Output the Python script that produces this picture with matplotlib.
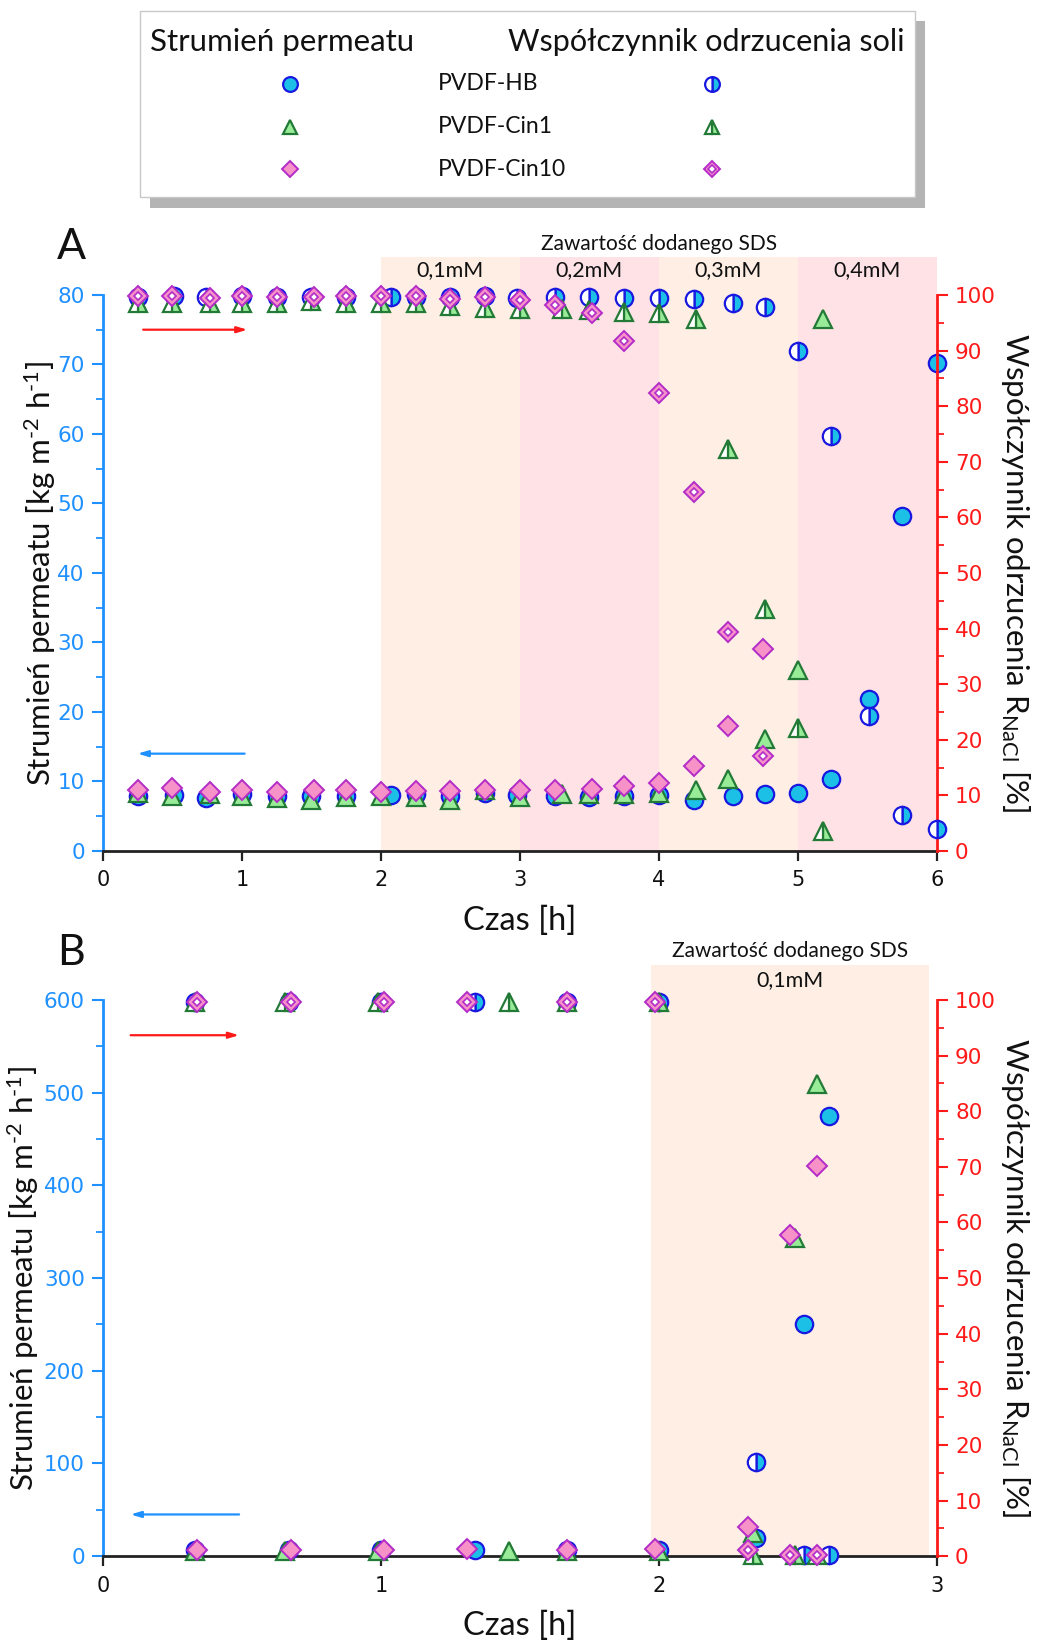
import matplotlib
matplotlib.use("Agg")
import matplotlib.pyplot as plt
from matplotlib.patches import Rectangle
from matplotlib.ticker import MultipleLocator

plt.rcParams["font.family"] = ["Lato", "DejaVu Sans"]
plt.rcParams["mathtext.fontset"] = "custom"
plt.rcParams["mathtext.rm"] = "Lato"
plt.rcParams["mathtext.it"] = "Lato:italic"

# ---------------- Panel A: flux and salt rejection vs time ----------------
a_hb_t = [0.25, 0.51, 0.74, 1.0, 1.25, 1.5, 1.75, 2.07, 2.25, 2.5, 2.75, 2.98,
          3.25, 3.5, 3.75, 4.0, 4.25, 4.53, 4.76, 5.0, 5.24, 5.51, 5.75, 6.0]
a_hb_flux = [7.9, 8.0, 7.6, 8.2, 7.9, 7.9, 7.9, 8.0, 8.2, 7.9, 8.3, 8.1,
             7.9, 7.8, 7.9, 8.0, 7.3, 7.9, 8.2, 8.4, 10.3, 21.8, 48.2, 70.2]
a_hb_rej = [99.6, 99.8, 99.6, 99.8, 99.6, 99.6, 99.6, 99.7, 99.7, 99.6, 99.8, 99.4,
            99.7, 99.6, 99.5, 99.5, 99.3, 98.6, 97.8, 90.0, 74.6, 24.2, 6.5, 3.9]

a_cin1_t = [0.25, 0.5, 0.77, 1.0, 1.25, 1.5, 1.75, 2.0, 2.25, 2.5, 2.75, 3.0,
            3.3, 3.5, 3.75, 4.0, 4.27, 4.5, 4.76, 5.0, 5.18]
a_cin1_flux = [8.3, 7.9, 8.2, 7.9, 7.6, 7.4, 7.8, 7.9, 7.8, 7.3, 8.8, 7.8,
               8.2, 8.2, 8.2, 8.4, 8.8, 10.4, 16.1, 26.0, 76.5]
a_cin1_rej = [98.6, 98.6, 98.6, 98.6, 98.6, 99.0, 98.6, 98.6, 98.5, 98.0, 97.7, 97.4,
              97.4, 97.3, 97.0, 96.7, 95.6, 72.3, 43.6, 22.2, 3.5]

a_cin10_t = [0.25, 0.5, 0.77, 1.0, 1.25, 1.52, 1.75, 2.0, 2.25, 2.5, 2.75, 3.0,
             3.25, 3.52, 3.75, 4.0, 4.25, 4.5, 4.75]
a_cin10_flux = [8.7, 9.1, 8.5, 8.7, 8.5, 8.8, 8.8, 8.5, 8.6, 8.6, 8.8, 8.8,
                8.8, 8.9, 9.4, 9.8, 12.2, 18.0, 29.0]
a_cin10_rej = [99.8, 99.9, 99.5, 99.8, 99.7, 99.6, 99.8, 99.9, 99.8, 99.2, 99.6, 99.1,
               98.2, 96.8, 91.7, 82.4, 64.5, 39.4, 17.1]

a_sds_edges = [2, 3, 4, 5, 6]
a_sds_labels = ["0,1mM", "0,2mM", "0,3mM", "0,4mM"]

# ---------------- Panel B ----------------
b_hb_t = [0.33, 0.67, 1.0, 1.34, 1.67, 2.0, 2.35, 2.52, 2.61]
b_hb_flux = [7, 7, 7, 7, 7, 7, 20, 250, 475]
b_hb_rej = [99.7, 99.7, 99.7, 99.7, 99.7, 99.7, 17.0, 0.2, 0.2]

b_cin1_t = [0.33, 0.655, 0.99, 1.46, 1.67, 2.0, 2.34, 2.49, 2.57]
b_cin1_flux = [6, 6, 6, 6, 6, 6, 25, 343, 509]
b_cin1_rej = [99.7, 99.7, 99.7, 99.7, 99.7, 99.7, 0.2, 0.2, 0.2]

b_cin10_t = [0.34, 0.675, 1.01, 1.31, 1.67, 1.985, 2.32, 2.47, 2.57]
b_cin10_flux = [7, 7, 7, 8, 7, 7.3, 31.7, 347, 421]
b_cin10_rej = [99.7, 99.7, 99.7, 99.7, 99.7, 99.7, 1.1, 0.2, 0.2]

b_sds_edges = [1.97, 2.97]
b_sds_labels = ["0,1mM"]

membranes = ["PVDF-HB", "PVDF-Cin1", "PVDF-Cin10"]

# ---------------- styling ----------------
BLUE_AX = "#1e90ff"
RED_AX = "#ff1a1a"
PEACH = "#feeee4"
PINK = "#fee2e6"
TXT = "#111111"

CYAN, CBLUE = "#1cc0e6", "#1818e0"
LGREEN, DGREEN = "#98ec98", "#237a37"
LPINK, PURPLE = "#f792c8", "#b42cc8"

flux_style = {
    "PVDF-HB": dict(marker="o", ms=12.5, mfc=CYAN, mec=CBLUE, mew=1.6),
    "PVDF-Cin1": dict(marker="^", ms=12.5, mfc=LGREEN, mec=DGREEN, mew=1.6),
    "PVDF-Cin10": dict(marker="D", ms=10, mfc=LPINK, mec=PURPLE, mew=1.4),
}
rej_style = {
    "PVDF-HB": dict(marker="o", ms=12.5, mfc=CYAN, mec=CBLUE, mew=1.6,
                    fillstyle="right", markerfacecoloralt="white"),
    "PVDF-Cin1": dict(marker="^", ms=12.5, mfc=LGREEN, mec=DGREEN, mew=1.6,
                      fillstyle="right", markerfacecoloralt="white"),
    "PVDF-Cin10": dict(marker="D", ms=10, mfc=LPINK, mec=PURPLE, mew=1.4),
}
inner_diamond = dict(marker="D", ms=4.5, mfc="white", mec=PURPLE, mew=1.2)


def draw_rej(ax, name, t, r, zorder=3):
    ax.plot(t, r, ls="none", zorder=zorder, clip_on=False, **rej_style[name])
    if name == "PVDF-Cin10":
        ax.plot(t, r, ls="none", zorder=zorder, clip_on=False, **inner_diamond)


def panel(ax, xmax, ymax, ymajor, yminor, edges, labels, shade_top,
          title_y, label_y, series, arrows, ylabel_x):
    ax2 = ax.twinx()
    ax.set_xlim(0, xmax)
    ax.set_ylim(0, ymax)
    ax2.set_ylim(0, 100)

    # SDS dosing bands, reaching above the plotting area
    cols = [PEACH, PINK]
    for i in range(len(edges) - 1):
        ax.add_patch(Rectangle((edges[i], 0), edges[i + 1] - edges[i], shade_top,
                               facecolor=cols[i % 2], edgecolor="none",
                               zorder=0, clip_on=False))
        ax.text((edges[i] + edges[i + 1]) / 2, label_y, labels[i],
                ha="center", va="center", fontsize=15.5, color=TXT)
    ax.text((edges[0] + edges[-1]) / 2, title_y, "Zawartość dodanego SDS",
            ha="center", va="center", fontsize=15, color=TXT)

    for name, t, flux, rej in series:
        ax.plot(t, flux, ls="none", zorder=3, clip_on=False, **flux_style[name])
        draw_rej(ax2, name, t, rej)

    # direction arrows: red -> right axis, blue -> left axis
    (rx0, rx1, ry), (bx0, bx1, by) = arrows
    ax.annotate("", xy=(rx1, ry), xytext=(rx0, ry),
                arrowprops=dict(arrowstyle="-|>,head_length=0.6,head_width=0.18",
                                color=RED_AX, lw=1.6))
    ax.annotate("", xy=(bx1, by), xytext=(bx0, by),
                arrowprops=dict(arrowstyle="-|>,head_length=0.6,head_width=0.18",
                                color=BLUE_AX, lw=1.6))

    for a in (ax, ax2):
        a.spines["top"].set_visible(False)
        a.set_facecolor("none")
    ax.spines["left"].set_color(BLUE_AX)
    ax.spines["left"].set_linewidth(2)
    ax.spines["right"].set_visible(False)
    ax.spines["bottom"].set_color("#222222")
    ax.spines["bottom"].set_linewidth(2)
    ax2.spines["left"].set_visible(False)
    ax2.spines["bottom"].set_visible(False)
    ax2.spines["right"].set_color(RED_AX)
    ax2.spines["right"].set_linewidth(2)

    ax.xaxis.set_major_locator(MultipleLocator(1))
    ax.yaxis.set_major_locator(MultipleLocator(ymajor))
    ax.yaxis.set_minor_locator(MultipleLocator(yminor))
    ax2.yaxis.set_major_locator(MultipleLocator(10))
    ax2.yaxis.set_minor_locator(MultipleLocator(5))

    ax.tick_params(axis="x", direction="out", length=7, width=1.6, color="#222222",
                   labelcolor=TXT, labelsize=15, pad=7,
                   labelfontfamily="DejaVu Sans")
    ax.tick_params(axis="y", which="major", direction="out", length=8, width=1.5,
                   color=BLUE_AX, labelcolor=BLUE_AX, labelsize=15.5, pad=5,
                   labelfontfamily="DejaVu Sans")
    ax.tick_params(axis="y", which="minor", direction="out", length=5, width=1.3,
                   color=BLUE_AX)
    ax2.tick_params(axis="y", which="major", direction="out", length=8, width=1.5,
                    color=RED_AX, labelcolor=RED_AX, labelsize=15.5, pad=5,
                    labelfontfamily="DejaVu Sans")
    ax2.tick_params(axis="y", which="minor", direction="out", length=5, width=1.3,
                    color=RED_AX)

    ax.set_xlabel("Czas [h]", fontsize=23.5, color=TXT, va="center")
    ax.xaxis.set_label_coords(0.5, -0.126)
    ax.set_ylabel(r"Strumień permeatu [kg m$^{\text{-2}}$ h$^{\text{-1}}$]",
                  fontsize=22.5, color=TXT, va="center")
    ax.yaxis.set_label_coords(ylabel_x, 0.5)
    ax2.set_ylabel(r"Współczynnik odrzucenia R$_{\mathregular{NaCl}}$ [%]",
                   fontsize=22.5, rotation=270, va="center", color=TXT)
    ax2.yaxis.set_label_coords(1.0947, 0.5)
    return ax2


fig = plt.figure(figsize=(10.42, 16.45), dpi=100)

axA = fig.add_axes([0.0987, 0.4827, 0.8005, 0.3380])
axB = fig.add_axes([0.0987, 0.0540, 0.8005, 0.3381])

panel(axA, 6, 80, 10, 5, a_sds_edges, a_sds_labels, 85.4, 87.3, 83.6,
      [("PVDF-HB", a_hb_t, a_hb_flux, a_hb_rej),
       ("PVDF-Cin1", a_cin1_t, a_cin1_flux, a_cin1_rej),
       ("PVDF-Cin10", a_cin10_t, a_cin10_flux, a_cin10_rej)],
      ((0.27, 1.06, 75), (1.04, 0.23, 14)), -0.0753)

panel(axB, 3, 600, 100, 50, b_sds_edges, b_sds_labels, 638, 653, 622,
      [("PVDF-HB", b_hb_t, b_hb_flux, b_hb_rej),
       ("PVDF-Cin1", b_cin1_t, b_cin1_flux, b_cin1_rej),
       ("PVDF-Cin10", b_cin10_t, b_cin10_flux, b_cin10_rej)],
      ((0.09, 0.5, 562), (0.5, 0.09, 45)), -0.0957)

fig.text(0.0685, 0.850, "A", fontsize=31, ha="center", va="center", color=TXT)
fig.text(0.0685, 0.4208, "B", fontsize=31, ha="center", va="center", color=TXT)

# ---------------- legend box ----------------
lax = fig.add_axes([0, 0, 1, 1], zorder=5)
lax.set_xlim(0, 1)
lax.set_ylim(0, 1)
lax.axis("off")
bx0, bx1, by0, by1 = 0.134, 0.878, 0.880, 0.9936
lax.add_patch(Rectangle((bx0 + 0.0095, by0 - 0.0062), bx1 - bx0, by1 - by0,
                        facecolor="#b4b4b4", edgecolor="none"))
lax.add_patch(Rectangle((bx0, by0), bx1 - bx0, by1 - by0,
                        facecolor="white", edgecolor="#c8c8c8", lw=1))
lax.text(0.144, 0.9745, "Strumień permeatu", fontsize=22.5, ha="left", va="center",
         color=TXT)
lax.text(0.868, 0.9745, "Współczynnik odrzucenia soli", fontsize=22,
         ha="right", va="center", color=TXT)
row_y = [0.949, 0.923, 0.897]
for name, y in zip(membranes, row_y):
    st = dict(flux_style[name])
    st["ms"] = st["ms"] * 0.85
    lax.plot([0.278], [y], ls="none", **st)
    rs = dict(rej_style[name])
    rs["ms"] = rs["ms"] * 0.85
    lax.plot([0.683], [y], ls="none", **rs)
    if name == "PVDF-Cin10":
        lax.plot([0.683], [y], ls="none", **inner_diamond)
    lax.text(0.42, y, name, fontsize=16.5, ha="left", va="center", color=TXT)

fig.savefig("out.png", dpi=100)
